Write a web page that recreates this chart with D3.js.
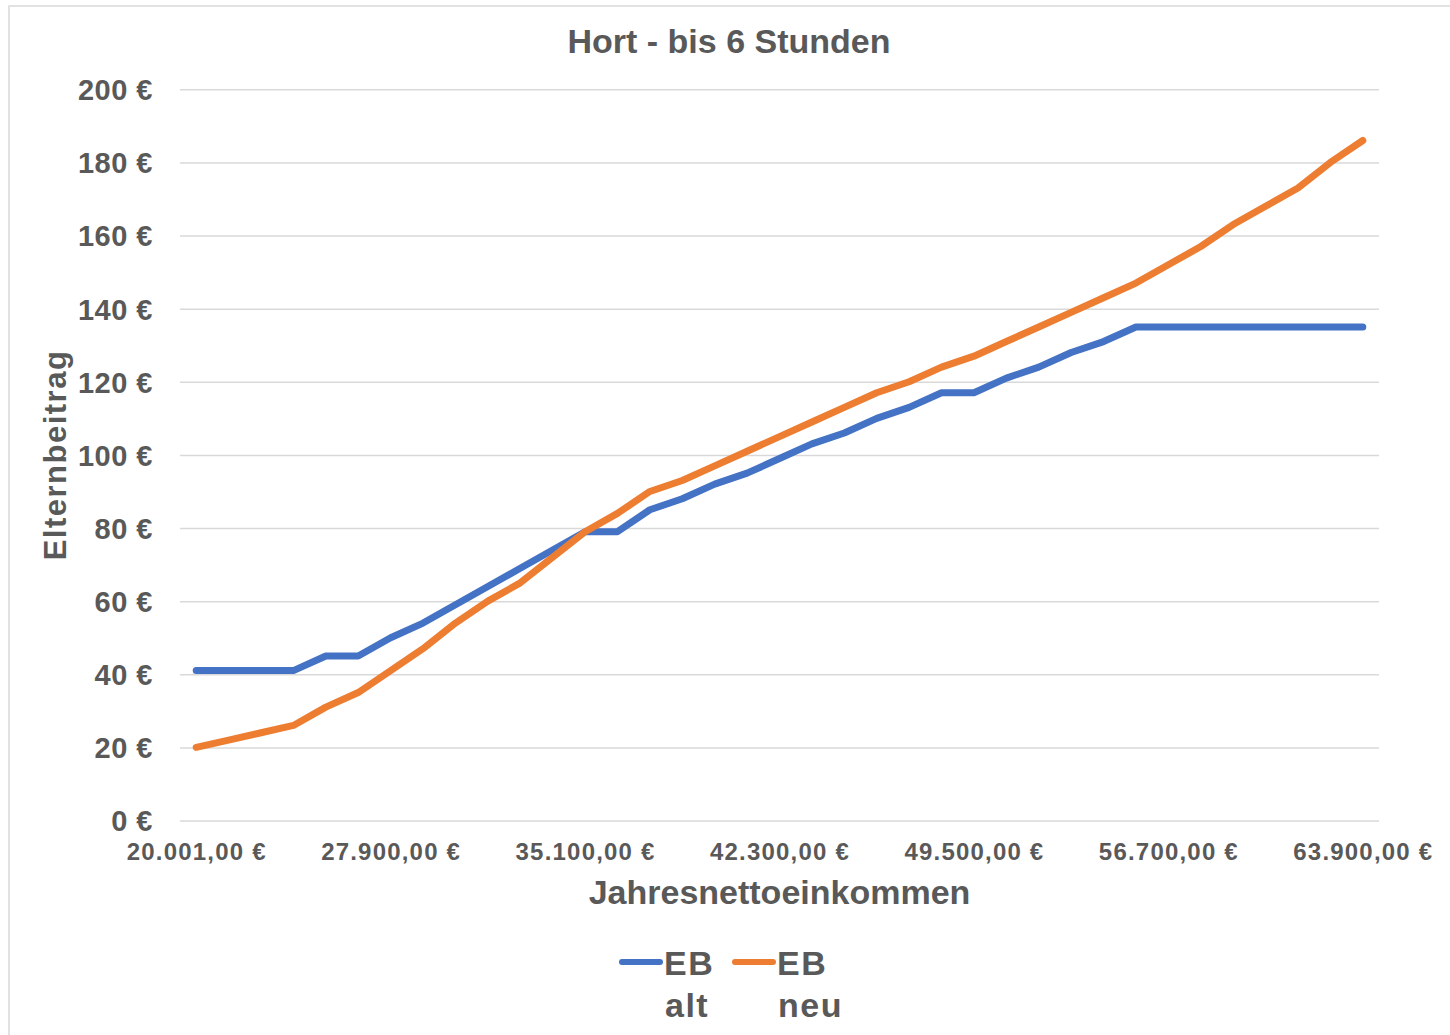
<!DOCTYPE html>
<html lang="de">
<head>
  <meta charset="UTF-8">
  <title>Hort - bis 6 Stunden</title>
  <script src="https://cdn.jsdelivr.net/npm/d3@7/dist/d3.min.js"></script>
  <style>
    body { margin: 0; background: #fff; }
    text { font-family: "Liberation Sans", Arial, sans-serif; font-weight: bold; fill: #595959; }
  </style>
</head>
<body>
  <div id="wrapper"></div>
  <script>
    // Jahresnettoeinkommen (Kategorien)
    const categories = [
      "20.001,00 €", "21.900,00 €", "23.100,00 €", "24.300,00 €", "25.500,00 €", "26.700,00 €",
      "27.900,00 €", "29.100,00 €", "30.300,00 €", "31.500,00 €", "32.700,00 €", "33.900,00 €",
      "35.100,00 €", "36.300,00 €", "37.500,00 €", "38.700,00 €", "39.900,00 €", "41.100,00 €",
      "42.300,00 €", "43.500,00 €", "44.700,00 €", "45.900,00 €", "47.100,00 €", "48.300,00 €",
      "49.500,00 €", "50.700,00 €", "51.900,00 €", "53.100,00 €", "54.300,00 €", "55.500,00 €",
      "56.700,00 €", "57.900,00 €", "59.100,00 €", "60.300,00 €", "61.500,00 €", "62.700,00 €",
      "63.900,00 €"
    ]
    const ebAlt = [41, 41, 41, 41, 45, 45, 50, 54, 59, 64, 69, 74, 79, 79, 85, 88, 92, 95, 99,
      103, 106, 110, 113, 117, 117, 121, 124, 128, 131, 135, 135, 135, 135, 135, 135, 135, 135]
    const ebNeu = [20, 22, 24, 26, 31, 35, 41, 47, 54, 60, 65, 72, 79, 84, 90, 93, 97, 101, 105,
      109, 113, 117, 120, 124, 127, 131, 135, 139, 143, 147, 152, 157, 163, 168, 173, 180, 186]
    const xTickLabels = ["20.001,00 €", "27.900,00 €", "35.100,00 €", "42.300,00 €",
      "49.500,00 €", "56.700,00 €", "63.900,00 €"]
    const yTicks = [0, 20, 40, 60, 80, 100, 120, 140, 160, 180, 200]
    const seriesNames = ["EB alt", "EB neu"]
    const colors = ["#4472C4", "#ED7D31"]

    const width = 1450
    const height = 1035
    const plot = { left: 180, right: 1379, top: 89.3, bottom: 820.5 }

    const svg = d3.select("#wrapper").append("svg")
      .attr("width", width)
      .attr("height", height)

    // chart frame
    svg.append("rect")
      .attr("x", 9).attr("y", 6)
      .attr("width", width + 20).attr("height", height + 20)
      .attr("fill", "none")
      .attr("stroke", "#d9d9d9")
      .attr("stroke-width", 1.5)

    const xScale = d3.scalePoint()
      .domain(categories)
      .range([plot.left, plot.right])
      .padding(0.5)

    const yScale = d3.scaleLinear()
      .domain([0, 200])
      .range([plot.bottom, plot.top])

    // y axis + gridlines
    const yAxis = svg.append("g")
      .attr("transform", `translate(${plot.left},0)`)
      .call(d3.axisLeft(yScale)
        .tickValues(yTicks)
        .tickSize(-(plot.right - plot.left))
        .tickPadding(27)
        .tickFormat(d => d + " €"))
    yAxis.select(".domain").remove()
    yAxis.selectAll(".tick line")
      .attr("stroke", "#d9d9d9")
      .attr("stroke-width", 1.5)
    yAxis.selectAll(".tick text")
      .attr("font-size", 29)
      .attr("letter-spacing", 0.5)
      .attr("dy", "0.36em")
      .attr("fill", "#595959")

    // x axis
    const xAxis = svg.append("g")
      .attr("transform", `translate(0,${plot.bottom})`)
      .call(d3.axisBottom(xScale)
        .tickValues(xTickLabels)
        .tickSize(0)
        .tickPadding(22))
    xAxis.select(".domain").remove()
    xAxis.selectAll(".tick text")
      .attr("font-size", 24)
      .attr("letter-spacing", 1.2)
      .attr("fill", "#595959")

    // lines
    const line = d3.line()
      .x((d, i) => xScale(categories[i]))
      .y(d => yScale(d))

    ;[ebAlt, ebNeu].forEach((values, k) => {
      svg.append("path")
        .attr("d", line(values))
        .attr("fill", "none")
        .attr("stroke", colors[k])
        .attr("stroke-width", 7)
        .attr("stroke-linejoin", "round")
        .attr("stroke-linecap", "round")
    })

    // titles
    svg.append("text")
      .attr("x", 729).attr("y", 52.5)
      .attr("text-anchor", "middle")
      .attr("font-size", 34)
      .text("Hort - bis 6 Stunden")

    svg.append("text")
      .attr("x", (plot.left + plot.right) / 2).attr("y", 904)
      .attr("text-anchor", "middle")
      .attr("font-size", 34)
      .text("Jahresnettoeinkommen")

    svg.append("text")
      .attr("transform", "translate(66,455) rotate(-90)")
      .attr("text-anchor", "middle")
      .attr("font-size", 31)
      .attr("letter-spacing", 1.5)
      .text("Elternbeitrag")

    // legend
    const legend = svg.append("g")
    const legendX = [620, 733]
    seriesNames.forEach((name, k) => {
      const g = legend.append("g").attr("transform", `translate(${legendX[k]},962)`)
      g.append("line")
        .attr("x1", 2).attr("x2", 40)
        .attr("stroke", colors[k])
        .attr("stroke-width", 6)
        .attr("stroke-linecap", "round")
      const parts = name.split(" ")
      g.append("text")
        .attr("x", 44).attr("y", 13)
        .attr("font-size", 34)
        .attr("letter-spacing", 1.5)
        .text(parts[0])
      g.append("text")
        .attr("x", 45).attr("y", 55)
        .attr("font-size", 34)
        .attr("letter-spacing", 1.5)
        .text(parts[1])
    })
  </script>
</body>
</html>
